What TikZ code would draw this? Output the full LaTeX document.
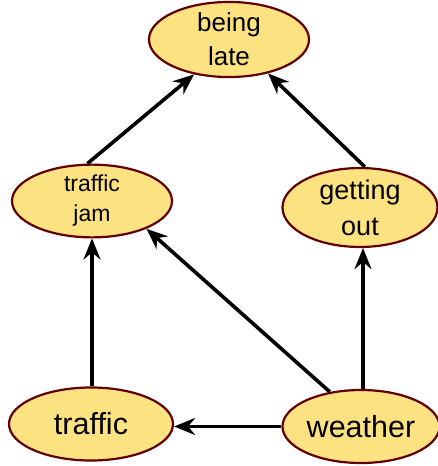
\documentclass[tikz,border=0pt]{standalone}
\usepackage{fontspec}
\setmainfont{Liberation Sans}
\usetikzlibrary{arrows.meta,shapes.geometric}
\definecolor{nodefill}{HTML}{FDE281}
\definecolor{nodeline}{HTML}{600000}
\tikzset{
  var/.style={ellipse, draw=nodeline, fill=nodefill, line width=2.2pt,
    inner sep=0pt, align=center, text=black},
  link/.style={line width=3.6pt, draw=black,
    -{Stealth[length=21pt, width=17pt, inset=7pt]}},
}
\begin{document}
\begin{tikzpicture}[x=1pt, y=-1pt]
  \useasboundingbox (0,0) rectangle (438,466);

  % variables
  \node[var, minimum width=160pt, minimum height=75pt,
        font=\fontsize{26}{34}\selectfont] (late) at (229,39.5) {being\\late};
  \node[var, minimum width=160pt, minimum height=72pt,
        font=\fontsize{23}{30}\selectfont] (jam) at (92,201) {traffic\\jam};
  \node[var, minimum width=155pt, minimum height=71pt,
        font=\fontsize{27}{36}\selectfont] (out) at (360,207.5) {getting\\out};
  \node[var, minimum width=164pt, minimum height=73pt,
        font=\fontsize{30.5}{36}\selectfont] (traffic) at (91,424) {traffic};
  \node[var, minimum width=157pt, minimum height=73pt,
        font=\fontsize{30.5}{36}\selectfont] (weather) at (361,426.5) {weather};

  % causal links
  \draw[link] (jam.97) -- (late.225);
  \draw[link] (out.83) -- (late.319);
  \draw[link] (traffic.north -| jam.south) -- (jam.south);
  \draw[link] (weather.132) -- (jam.333);
  \draw[link] ([xshift=2pt]weather.north) -- ([xshift=2pt]weather.north |- out.south);
  \draw[link] (weather.west) -- (weather.west -| traffic.east);
\end{tikzpicture}
\end{document}
